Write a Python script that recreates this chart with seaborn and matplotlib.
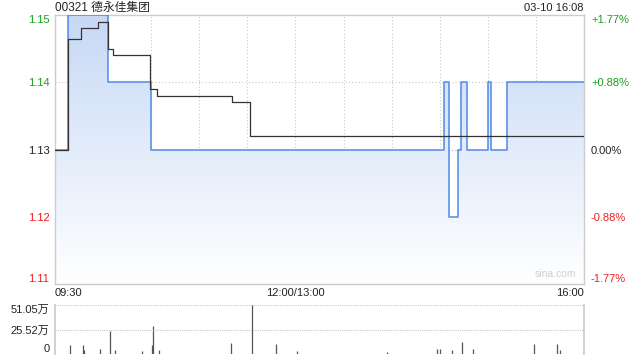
import numpy as np
import pandas as pd
import matplotlib
matplotlib.use("Agg")
import matplotlib.pyplot as plt
import seaborn as sns

# ---- data (minutes since 09:30 on a 330-minute trading axis) ----
price_t = [0, 8.1, 33, 59.7, 242.5, 245.5, 251.6, 253.5, 257, 269.9, 271.8, 282, 330]
price_v = [1.13, 1.15, 1.14, 1.13, 1.14, 1.12, 1.13, 1.14, 1.13, 1.14, 1.13, 1.14, 1.14]
avg_t = [0, 8.1, 16.2, 26.8, 33.1, 36.2, 59.3, 63.6, 110.4, 121.6, 330]
avg_v = [1.13, 1.1465, 1.148, 1.149, 1.145, 1.1441, 1.139, 1.138, 1.137, 1.132, 1.132]
vol_t = [9.5, 17.5, 18.1, 28.3, 34.5, 37.6, 54.5, 60.3, 61.3, 64.7, 109.6, 123.1,
         138, 150.8, 206.9, 238.1, 240.3, 247.5, 253.7, 260.6, 299, 313.3, 315, 330]
vol_v = [9.4, 9.4, 4, 5.2, 24.3, 4, 3, 9.4, 29.5, 4, 11.5, 51.05,
         10.4, 3, 2, 5, 5, 4, 12.8, 5, 10.4, 10.4, 4, 3]  # 万
prev_close = 1.13
price_ticks = [1.15, 1.14, 1.13, 1.12, 1.11]
pct_labels = ["+1.77%", "+0.88%", "0.00%", "-0.88%", "-1.77%"]
vol_ticks = [51.05, 25.52, 0]
vol_labels = ["51.05万", "25.52万", "0"]
x_labels = ["09:30", "12:00/13:00", "16:00"]
x_label_pos = [0, 150, 330]
title = "00321 德永佳集团"
stamp = "03-10 16:08"

sns.set_theme(style="white")
plt.rcParams["font.family"] = ["Liberation Sans", "Noto Sans CJK SC", "DejaVu Sans"]

GREEN = "#1a9e1a"
RED = "#f01e1e"
BLACK = "#222222"
GRID = "#c8c8c8"
SPINE = "#cccccc"
tick_colors = [GREEN, GREEN, BLACK, RED, RED]

fig = plt.figure(figsize=(6.4, 3.6), dpi=100)
ax = fig.add_axes([55/640, 1-284/360, 529/640, 269/360])
axv = fig.add_axes([55/640, 1-354/360, 529/640, 49/360])

pdf = pd.DataFrame({"t": price_t, "v": price_v})
adf = pd.DataFrame({"t": avg_t, "v": avg_v})

# gradient fill under price line
poly = ax.fill_between(price_t, price_v, 1.11, step="post", color="none", lw=0)
grad = np.linspace(0, 1, 256).reshape(-1, 1)
top = np.array([0.78, 0.85, 0.965])
bot = np.array([1.0, 1.0, 1.0])
img = top[None, None, :] * (1 - grad[:, :, None]) + bot[None, None, :] * grad[:, :, None]
im = ax.imshow(img, extent=[0, 330, 1.11, 1.15], aspect="auto", origin="upper", zorder=1)
im.set_clip_path(poly.get_paths()[0], transform=ax.transData)

# grid
for gx in np.arange(30, 330, 30):
    ax.axvline(gx, color=GRID, ls=(0, (1, 2)), lw=0.8, zorder=0.5)
for gy in [1.14, 1.13, 1.12]:
    ax.axhline(gy, color=GRID if gy != 1.13 else "#aaaaaa", ls=(0, (1, 2)), lw=0.8, zorder=0.5)

sns.lineplot(data=pdf, x="t", y="v", ax=ax, drawstyle="steps-post", color="#4f8ae6", lw=1.1, zorder=3)
sns.lineplot(data=adf, x="t", y="v", ax=ax, drawstyle="steps-post", color="#333333", lw=0.9, zorder=4)

ax.set_xlim(0, 330)
ax.set_ylim(1.11, 1.15)
ax.set_xlabel("")
ax.set_ylabel("")
ax.set_xticks([])
ax.set_yticks(price_ticks)
ax.set_yticklabels([f"{v:.2f}" for v in price_ticks], fontsize=8)
ax.tick_params(axis="y", length=0, pad=4)
for lbl, c, v in zip(ax.get_yticklabels(), tick_colors, price_ticks):
    lbl.set_color(c)
    if v == 1.15:
        lbl.set_va("top")
    elif v == 1.11:
        lbl.set_va("bottom")
for s in ax.spines.values():
    s.set_color(SPINE)
    s.set_linewidth(1)

axr = ax.twinx()
axr.set_ylim(1.11, 1.15)
axr.set_yticks(price_ticks)
axr.set_yticklabels(pct_labels, fontsize=8)
axr.tick_params(axis="y", length=0, pad=5)
for lbl, c, v in zip(axr.get_yticklabels(), tick_colors, price_ticks):
    lbl.set_color(c)
    if v == 1.15:
        lbl.set_va("top")
    elif v == 1.11:
        lbl.set_va("bottom")
for s in axr.spines.values():
    s.set_visible(False)
axr.grid(False)

for xp, xl in zip(x_label_pos, x_labels):
    ha = "left" if xp == 0 else ("right" if xp == 330 else "center")
    ax.text(xp, -0.035, xl, transform=ax.get_xaxis_transform(), ha=ha, va="center",
            fontsize=8, color=BLACK)

ax.text(0.985, 0.02, "sina.com", transform=ax.transAxes, ha="right", va="bottom",
        fontsize=7.5, color="#cfcfcf", zorder=5)

fig.text(55/640, 1-8/360, title, ha="left", va="center", fontsize=8.5, color=BLACK,
         family=["Liberation Sans", "Noto Sans CJK SC"])
fig.text(584/640, 1-8/360, stamp, ha="right", va="center", fontsize=8, color=BLACK)

# volume
axv.vlines(vol_t, 0, vol_v, color="#555555", lw=0.9)
axv.axhline(0, color="#888888", ls=(0, (1, 2)), lw=0.8)
for gy in [25.52, 51.05]:
    axv.axhline(gy, color=GRID, ls=(0, (1, 1)), lw=0.8)
axv.set_xlim(0, 330)
axv.set_ylim(0, 51.05)
axv.set_xticks([])
axv.set_yticks(vol_ticks)
axv.set_yticklabels(vol_labels, fontsize=8)
axv.tick_params(axis="y", length=0, pad=4)
for lbl, v in zip(axv.get_yticklabels(), vol_ticks):
    lbl.set_color(BLACK)
    if v == 51.05:
        lbl.set_va("top")
    elif v == 0:
        lbl.set_va("bottom")
axv.spines["top"].set_visible(False)
axv.spines["bottom"].set_visible(False)
for k in ["left", "right"]:
    axv.spines[k].set_color(SPINE)
axv.grid(False)
ax.grid(False)

fig.savefig("out.png", dpi=100)
